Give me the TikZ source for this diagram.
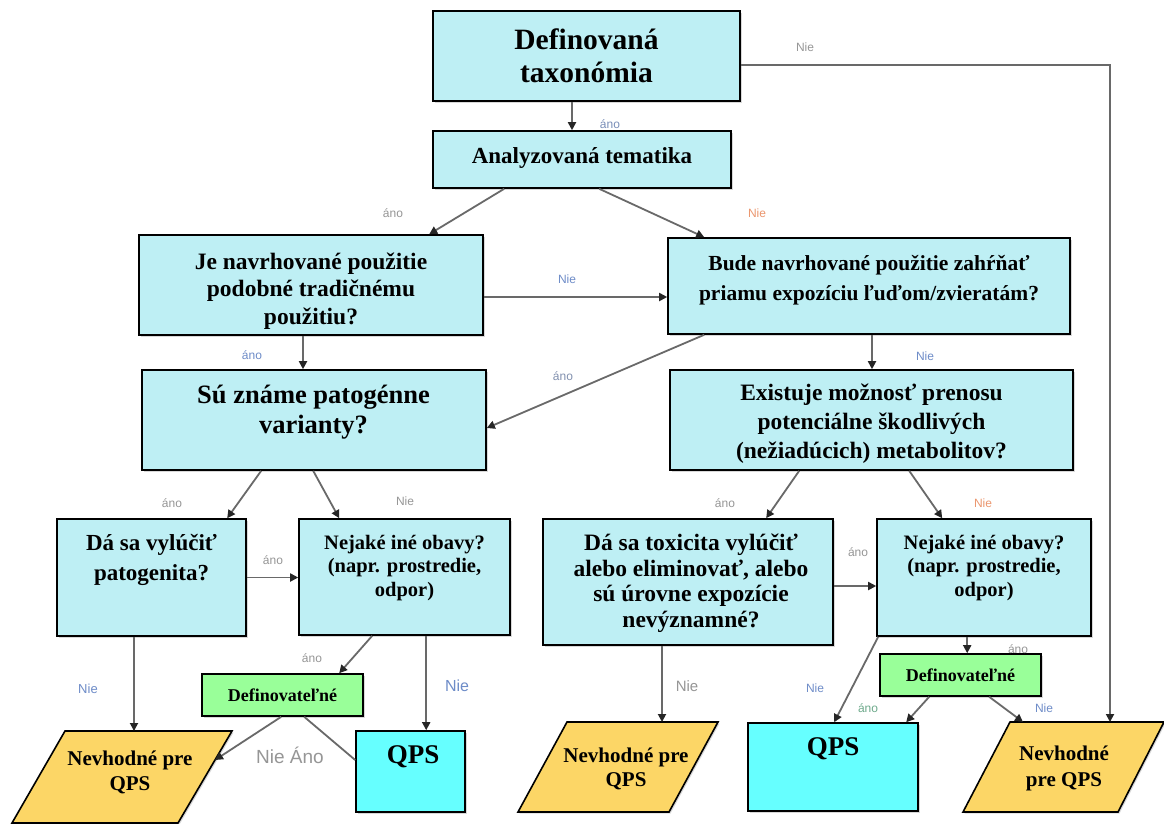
\documentclass[tikz,border=0pt]{standalone}
\usepackage{fontspec}
\setmainfont{Liberation Serif}
\setsansfont{Liberation Sans}
\usetikzlibrary{arrows.meta,shadows,calc}
\definecolor{boxc}{RGB}{190,239,244}
\definecolor{qpsc}{RGB}{102,255,255}
\definecolor{nevc}{RGB}{252,214,102}
\definecolor{grc}{RGB}{153,255,153}
\definecolor{linec}{RGB}{105,105,105}
\definecolor{lgray}{RGB}{150,150,150}
\definecolor{lblue}{RGB}{110,140,200}
\definecolor{lorange}{RGB}{235,150,110}
\definecolor{lgreen}{RGB}{110,170,140}
\newcommand\myfs[2]{\fontsize{#1}{#2}\selectfont}
\begin{document}
\begin{tikzpicture}[x=1pt,y=-1pt,
  shad/.style={drop shadow={shadow xshift=1.5pt,shadow yshift=-1.5pt,opacity=0.3}},
  box/.style={draw=black,line width=1.6pt,fill=boxc,inner sep=0pt,shad},
  qps/.style={box,fill=qpsc},
  grn/.style={box,fill=grc},
  nev/.style={draw=black,line width=1.6pt,fill=nevc,shad},
  txt/.style={align=center,inner sep=0pt},
  arr/.style={draw=linec,line width=1.8pt,-{Triangle[length=8pt,width=8pt,color=black!85]}},
  ln/.style={draw=linec,line width=1.8pt},
  lab/.style={font=\sffamily\myfs{12}{14},inner sep=0pt}
]
\path[use as bounding box,fill=white] (0,0) rectangle (1164,823);

% boxes
\node[box,minimum width=307pt,minimum height=90pt] (A) at (586.5,56) {};
\node[txt,font=\bfseries\myfs{29.5}{33}] (tA) at (586.5,56) {Definovaná\\taxonómia};

\node[box,minimum width=298pt,minimum height=57pt] (B) at (582,159.5) {};
\node[txt,font=\bfseries\myfs{23}{26}] (tB) at (582,158) {Analyzovaná tematika};

\node[box,minimum width=344pt,minimum height=100pt] (C) at (311,285) {};
\node[txt,font=\bfseries\myfs{23.5}{27.5}] (tC) at (311,291) {Je navrhované použitie\\podobné tradičnému\\použitiu?};

\node[box,minimum width=402pt,minimum height=96pt] (D) at (869,286) {};
\node[txt,font=\bfseries\myfs{21.5}{30}] (tD) at (869,280) {Bude navrhované použitie zahŕňať\\priamu expozíciu ľuďom/zvieratám?};

\node[box,minimum width=344pt,minimum height=100pt] (E) at (314,420) {};
\node[txt,font=\bfseries\myfs{26.5}{29.5}] (tE) at (313.5,412) {Sú známe patogénne\\varianty?};

\node[box,minimum width=403pt,minimum height=100pt] (F) at (871.5,420) {};
\node[txt,font=\bfseries\myfs{23.5}{29}] (tF) at (871.5,424) {Existuje možnosť prenosu\\potenciálne škodlivých\\(nežiadúcich) metabolitov?};

\node[box,minimum width=189pt,minimum height=117pt] (G) at (151.5,577.5) {};
\node[txt,font=\bfseries\myfs{23}{30}] (tG) at (151.5,560) {Dá sa vylúčiť\\patogenita?};

\node[box,minimum width=211pt,minimum height=116pt] (H) at (404.5,577) {};
\node[txt,font=\bfseries\myfs{20.5}{23.5}] (tH) at (404.5,568) {Nejaké iné obavy?\\(napr. prostredie,\\odpor)};

\node[box,minimum width=290pt,minimum height=126pt] (I) at (688,582) {};
\node[txt,font=\bfseries\myfs{23.5}{25.5}] (tI) at (691,583) {Dá sa toxicita vylúčiť\\alebo eliminovať, alebo\\sú úrovne expozície\\nevýznamné?};

\node[box,minimum width=214pt,minimum height=117pt] (J) at (984,577.5) {};
\node[txt,font=\bfseries\myfs{20.5}{23.5}] (tJ) at (984,568) {Nejaké iné obavy?\\(napr. prostredie,\\odpor)};

\node[grn,minimum width=161pt,minimum height=42pt,font=\bfseries\myfs{18}{20}] (K) at (282.5,695) {Definovateľné};
\node[grn,minimum width=161pt,minimum height=42pt,font=\bfseries\myfs{18}{20}] (L) at (960.5,675) {Definovateľné};

\node[qps,minimum width=109pt,minimum height=81pt] (M) at (410.5,771.5) {};
\node[txt,font=\bfseries\myfs{27}{30}] (tM) at (413,757) {QPS};
\node[qps,minimum width=170pt,minimum height=88pt] (N) at (833,767) {};
\node[txt,font=\bfseries\myfs{27}{30}] (tN) at (833,749) {QPS};

% parallelograms
\path[nev] (65,731) -- (232,731) -- (178,823) -- (12,823) -- cycle;
\node[txt,font=\bfseries\myfs{21}{25}] (tP1) at (130,772.5) {Nevhodné pre\\QPS};
\path[nev] (567,722) -- (718,722) -- (669,812) -- (518,812) -- cycle;
\node[txt,font=\bfseries\myfs{21}{24}] (tP2) at (626,769) {Nevhodné pre\\QPS};
\path[nev] (1010,722) -- (1164,722) -- (1118,812) -- (963,812) -- cycle;
\node[txt,font=\bfseries\myfs{21}{26}] (tP3) at (1064,768) {Nevhodné\\pre QPS};

\coordinate (p1a) at (134,731);
\coordinate (p1b) at (215,760);
\coordinate (p2a) at (662,722);
\coordinate (p3a) at (1110,722);
\coordinate (p3b) at (1023,722);

% connectors
\draw[arr] ([xshift=-14.5pt]A.south) -- ([xshift=-14.5pt]A.south |- B.north);
\draw[arr] ([yshift=-9pt]A.east) -| (p3a);
\draw[arr] ([xshift=72pt]B.south west) -- ([xshift=291pt]C.north west);
\draw[arr] ([xshift=167pt]B.south west) -- ([xshift=37pt]D.north west);
\draw[arr] ([yshift=-12pt]C.east) -- ([yshift=-12pt]C.east -| D.west);
\draw[arr] ([xshift=-8pt]C.south) -- ([xshift=-8pt]C.south |- E.north);
\draw[arr] ([xshift=37pt]D.south west) -- ([yshift=-8pt]E.east);
\draw[arr] ([xshift=3pt]D.south) -- ([xshift=3pt]D.south |- F.north);
\draw[arr] ([xshift=120pt]E.south west) -- ([xshift=171pt]G.north west);
\draw[arr] ([xshift=172pt]E.south west) -- ([xshift=41pt]H.north west);
\draw[arr] ([xshift=130pt]F.south west) -- ([xshift=224pt]I.north west);
\draw[arr] ([xshift=240pt]F.south west) -- ([xshift=66pt]J.north west);
\draw[arr] (G.east) -- (G.east -| H.west);
\draw[arr] ([yshift=-4pt]I.east) -- ([yshift=-4pt]I.east -| J.west);
\draw[arr] ([xshift=-17.5pt]G.south) -- (p1a);
\draw[arr] ([xshift=74pt]H.south west) -- ([xshift=138pt]K.north west);
\draw[arr] ([xshift=128pt]H.south west) -- ([xshift=128pt]H.south west |- M.north);
\draw[arr] ([xshift=80pt]K.south west) -- (p1b);
\draw[ln] ([xshift=103pt]K.south west) -- ([yshift=11.5pt]M.west);
\draw[arr] ([xshift=-26pt]I.south) -- (p2a);
\draw[arr] ([xshift=2pt]J.south west) -- ([xshift=87pt]N.north west);
\draw[arr] ([xshift=91pt]J.south west) -- ([xshift=91pt]J.south west |- L.north);
\draw[arr] ([xshift=50pt]L.south west) -- ([xshift=159pt]N.north west);
\draw[arr] ([xshift=110pt]L.south west) -- (p3b);

% labels
\node[lab,text=lblue!70!lgray] (l1) at (610,124) {áno};
\node[lab,text=lgray] (l2) at (805,47) {Nie};
\node[lab,text=lgray] (l3) at (393,213) {áno};
\node[lab,text=lorange] (l4) at (757,213) {Nie};
\node[lab,text=lblue] (l5) at (567,279) {Nie};
\node[lab,text=lblue] (l6) at (252,355) {áno};
\node[lab,text=lblue!50!lgray] (l7) at (563,376) {áno};
\node[lab,text=lblue] (l8) at (925,356) {Nie};
\node[lab,text=lgray] (l9) at (172,503) {áno};
\node[lab,text=lgray] (l10) at (405,501) {Nie};
\node[lab,text=lgray] (l11) at (725,503) {áno};
\node[lab,text=lorange] (l12) at (983,503) {Nie};
\node[lab,text=lgray] (l13) at (273,560) {áno};
\node[lab,text=lgray] (l14) at (858,552) {áno};
\node[lab,text=lblue,font=\sffamily\myfs{13}{15}] (l15) at (88,689) {Nie};
\node[lab,text=lgray] (l16) at (312,658) {áno};
\node[lab,text=lblue,font=\sffamily\myfs{16}{18}] (l17) at (457,686) {Nie};
\node[lab,text=lgray,font=\sffamily\myfs{19}{21}] (l18) at (290,755) {Nie Áno};
\node[lab,text=lgray,font=\sffamily\myfs{15}{17}] (l19) at (687,686) {Nie};
\node[lab,text=lblue] (l20) at (815,688) {Nie};
\node[lab,text=lgray] (l21) at (1018,649) {áno};
\node[lab,text=lgreen] (l22) at (868,708) {áno};
\node[lab,text=lblue] (l23) at (1044,708) {Nie};
\end{tikzpicture}
\end{document}
